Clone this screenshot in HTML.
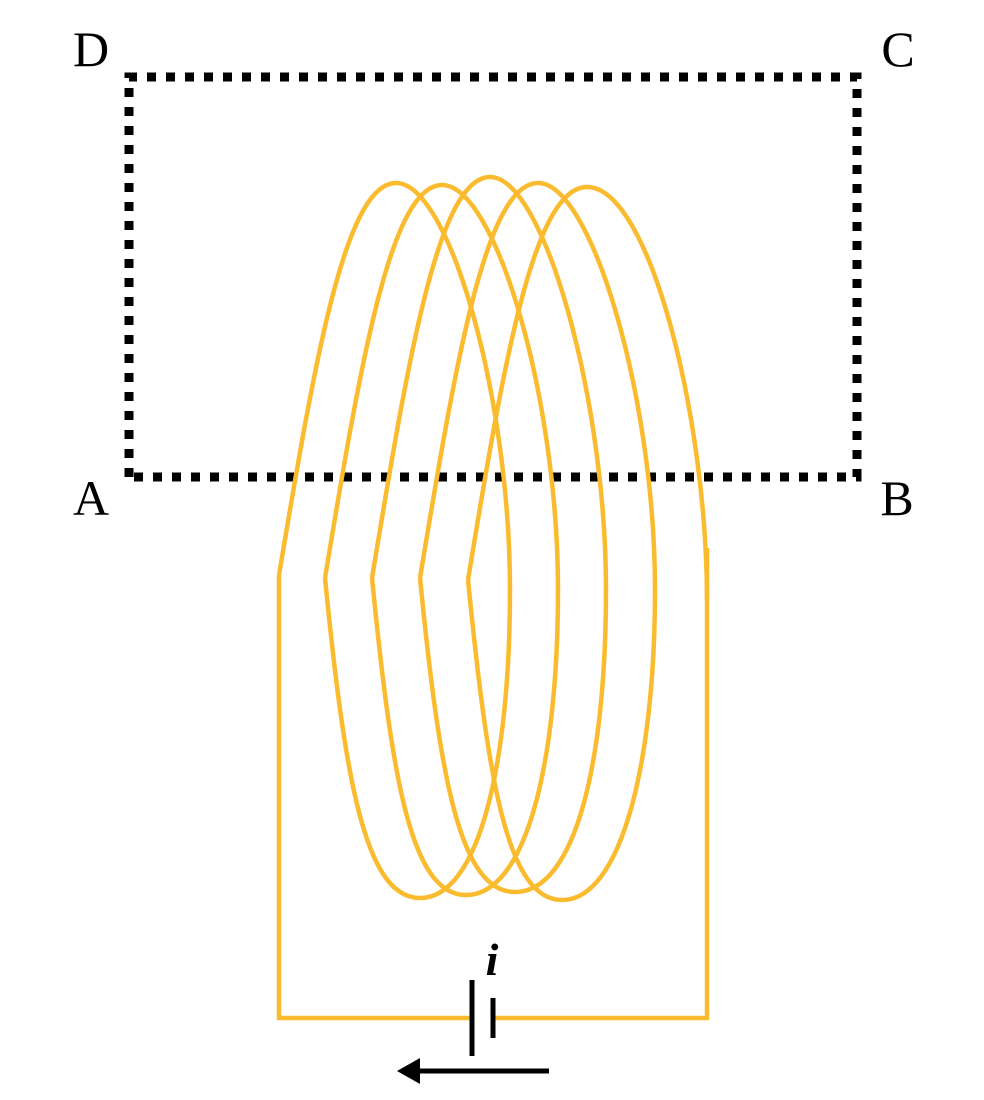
<!DOCTYPE html>
<html><head><style>body{margin:0;background:#fff}svg{display:block}</style></head><body>
<svg width="984" height="1100" viewBox="0 0 984 1100" xmlns="http://www.w3.org/2000/svg">
<rect width="984" height="1100" fill="#fff"/>
<path d="M129,477 L129,77 L857,77 L857,477 Z" fill="none" stroke="#000" stroke-width="9" stroke-dasharray="9 10"/>
<g font-family="Liberation Serif, serif" font-size="50" fill="#000" text-anchor="middle">
<text x="91" y="66">D</text><text x="898" y="66">C</text>
<text x="91" y="515">A</text><text x="897" y="515">B</text>
</g>
<g fill="none" stroke="#fbbb2f" stroke-width="4.5">
<path d="M279,575 C315,360 345,183 396,183 C450,183 510,400 510,590 C510,760 480,898 420,898 C365,898 345,780 325,578"/>
<path d="M325,578 C361,360 391,185 442,185 C496,185 558,400 558,590 C558,760 527,895 466,895 C411,895 392,780 372,578"/>
<path d="M372,578 C408,360 438,177 490,177 C544,177 606,400 606,590 C606,760 576,892 515,892 C460,892 440,780 420,578"/>
<path d="M420,578 C456,360 486,183 538,183 C592,183 655,400 655,590 C655,760 622,900 562,900 C507,900 488,780 468,580"/>
<path d="M468,580 C504,360 534,187 587,187 C650,187 707,420 707,600"/>
<path d="M279,575 L279,1018 L472,1018 M493,1018 L707,1018 L707,548"/>
</g>
<g stroke="#000" stroke-width="5">
<line x1="472" y1="980" x2="472" y2="1056"/>
<line x1="493" y1="998" x2="493" y2="1038"/>
<line x1="418" y1="1071" x2="549" y2="1071"/>
</g>
<polygon points="397,1071 420,1058 420,1084" fill="#000"/>
<text x="492" y="975" font-family="Liberation Serif, serif" font-size="46" font-style="italic" font-weight="bold" text-anchor="middle">i</text>
</svg>
</body></html>
